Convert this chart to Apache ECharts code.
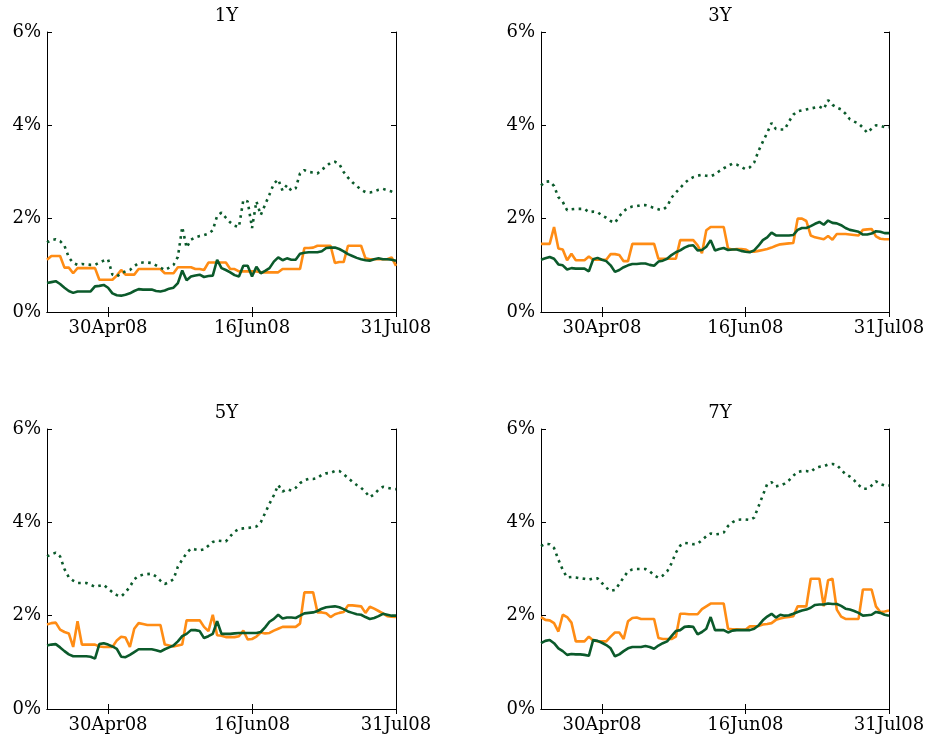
<!DOCTYPE html>
<html>
<head>
<meta charset="utf-8">
<script src="https://cdn.jsdelivr.net/npm/echarts@6/dist/echarts.min.js"></script>
<style>
html,body{margin:0;padding:0;background:#fff;}
#chart{width:928px;height:738px;}
</style>
</head>
<body>
<div id="chart"></div>
<script>
// Business-day categories, 10 Apr 2008 .. 31 Jul 2008
const dates = [
 '10Apr08','11Apr08','14Apr08','15Apr08','16Apr08','17Apr08','18Apr08','21Apr08','22Apr08','23Apr08','24Apr08','25Apr08','28Apr08','29Apr08','30Apr08',
 '01May08','02May08','05May08','06May08','07May08','08May08','09May08','12May08','13May08','14May08','15May08','16May08','19May08','20May08','21May08','22May08','23May08','26May08','27May08','28May08','29May08','30May08',
 '02Jun08','03Jun08','04Jun08','05Jun08','06Jun08','09Jun08','10Jun08','11Jun08','12Jun08','13Jun08','16Jun08','17Jun08','18Jun08','19Jun08','20Jun08','23Jun08','24Jun08','25Jun08','26Jun08','27Jun08','30Jun08',
 '01Jul08','02Jul08','03Jul08','04Jul08','07Jul08','08Jul08','09Jul08','10Jul08','11Jul08','14Jul08','15Jul08','16Jul08','17Jul08','18Jul08','21Jul08','22Jul08','23Jul08','24Jul08','25Jul08','28Jul08','29Jul08','30Jul08','31Jul08'
];
const tickLabels = ['30Apr08','16Jun08','31Jul08'];
const panelTitles = ['1Y','3Y','5Y','7Y'];

// 1Y
const orange1Y = [1.12,1.2,1.2,1.2,0.95,0.95,0.83,0.94,0.94,0.94,0.94,0.94,0.69,0.69,0.69,0.69,0.78,0.9,0.8,0.8,0.8,0.92,0.92,0.92,0.92,0.92,0.92,0.83,0.83,0.83,0.96,0.96,0.96,0.96,0.92,0.92,0.9,1.06,1.06,1.06,1.06,1.06,0.92,0.92,0.87,0.87,0.87,0.87,0.87,0.85,0.85,0.85,0.85,0.85,0.92,0.92,0.92,0.92,0.92,1.37,1.37,1.38,1.42,1.42,1.42,1.42,1.05,1.07,1.07,1.42,1.42,1.42,1.42,1.15,1.13,1.13,1.13,1.13,1.13,1.17,0.99];
const green1Y = [0.62,0.64,0.66,0.6,0.52,0.45,0.41,0.44,0.44,0.44,0.44,0.55,0.56,0.58,0.52,0.4,0.36,0.35,0.37,0.4,0.45,0.49,0.48,0.48,0.48,0.45,0.44,0.46,0.5,0.52,0.62,0.89,0.68,0.76,0.78,0.8,0.75,0.77,0.78,1.12,0.94,0.9,0.85,0.79,0.76,0.99,0.99,0.76,0.97,0.83,0.88,0.94,1.08,1.17,1.11,1.15,1.12,1.12,1.25,1.27,1.28,1.28,1.28,1.3,1.37,1.38,1.38,1.35,1.3,1.24,1.2,1.16,1.13,1.11,1.1,1.13,1.15,1.13,1.13,1.12,1.1];
const dotted1Y = [1.49,1.54,1.56,1.52,1.42,1.17,1.05,1.01,1.03,1.02,1.01,1.01,1.06,1.1,1.13,0.8,0.76,0.83,0.87,0.9,0.98,1.05,1.06,1.06,1.05,1.0,0.95,0.9,0.95,1.01,1.18,1.82,1.38,1.55,1.6,1.63,1.65,1.68,1.75,2.06,2.13,2.02,1.92,1.85,1.82,2.4,2.37,1.8,2.37,2.08,2.3,2.52,2.75,2.84,2.6,2.72,2.6,2.65,2.97,3.04,3.0,2.99,2.97,3.05,3.12,3.2,3.22,3.17,3.0,2.88,2.78,2.7,2.62,2.57,2.56,2.58,2.62,2.64,2.61,2.58,2.54];

// 3Y
const orange3Y = [1.46,1.46,1.46,1.82,1.36,1.34,1.11,1.25,1.11,1.11,1.11,1.19,1.12,1.12,1.12,1.12,1.24,1.24,1.22,1.09,1.09,1.46,1.46,1.46,1.46,1.46,1.46,1.14,1.14,1.14,1.14,1.14,1.54,1.54,1.54,1.54,1.43,1.26,1.75,1.82,1.82,1.82,1.82,1.36,1.34,1.35,1.35,1.34,1.29,1.29,1.31,1.33,1.35,1.38,1.42,1.45,1.46,1.47,1.48,2.0,2.0,1.95,1.64,1.6,1.58,1.56,1.63,1.55,1.67,1.67,1.67,1.66,1.65,1.64,1.76,1.77,1.78,1.62,1.57,1.56,1.56];
const green3Y = [1.12,1.15,1.18,1.14,1.02,1.0,0.91,0.94,0.93,0.93,0.93,0.87,1.13,1.16,1.12,1.09,1.0,0.86,0.9,0.96,1.0,1.03,1.03,1.04,1.04,1.01,0.99,1.08,1.1,1.14,1.22,1.28,1.32,1.38,1.42,1.43,1.32,1.33,1.4,1.54,1.32,1.35,1.37,1.33,1.34,1.34,1.31,1.29,1.28,1.32,1.42,1.54,1.6,1.7,1.64,1.64,1.64,1.64,1.65,1.76,1.8,1.8,1.84,1.89,1.93,1.87,1.96,1.91,1.9,1.86,1.8,1.76,1.74,1.72,1.66,1.66,1.68,1.73,1.72,1.69,1.69];
const dotted3Y = [2.71,2.79,2.8,2.7,2.46,2.36,2.18,2.2,2.21,2.21,2.21,2.14,2.15,2.14,2.07,2.02,1.95,1.91,2.05,2.16,2.23,2.26,2.27,2.29,2.29,2.26,2.23,2.2,2.19,2.26,2.45,2.56,2.66,2.76,2.84,2.89,2.92,2.94,2.92,2.91,2.95,3.02,3.08,3.13,3.18,3.16,3.11,3.06,3.1,3.2,3.45,3.65,3.84,4.05,3.92,3.91,3.91,4.08,4.23,4.3,4.32,4.34,4.36,4.38,4.4,4.35,4.54,4.44,4.38,4.34,4.25,4.13,4.08,4.04,3.95,3.84,3.93,4.0,3.99,3.96,3.96];

// 5Y
const orange5Y = [1.81,1.84,1.85,1.7,1.65,1.62,1.33,1.88,1.38,1.38,1.38,1.38,1.34,1.33,1.33,1.33,1.47,1.55,1.53,1.33,1.72,1.84,1.82,1.8,1.8,1.8,1.8,1.38,1.36,1.34,1.36,1.38,1.9,1.9,1.9,1.9,1.76,1.67,2.02,1.58,1.57,1.54,1.54,1.54,1.56,1.68,1.49,1.5,1.55,1.64,1.62,1.63,1.68,1.72,1.76,1.76,1.76,1.76,1.83,2.5,2.5,2.5,2.07,2.07,2.05,1.97,2.03,2.06,2.08,2.22,2.22,2.21,2.2,2.06,2.19,2.15,2.1,2.05,1.99,1.98,1.97];
const green5Y = [1.36,1.38,1.39,1.32,1.24,1.17,1.13,1.13,1.13,1.13,1.12,1.08,1.39,1.41,1.38,1.34,1.29,1.12,1.11,1.16,1.22,1.28,1.28,1.28,1.28,1.26,1.23,1.28,1.32,1.36,1.45,1.56,1.61,1.69,1.69,1.67,1.52,1.56,1.61,1.88,1.61,1.61,1.61,1.62,1.63,1.63,1.63,1.63,1.63,1.65,1.75,1.87,1.93,2.02,1.94,1.96,1.96,1.95,2.0,2.05,2.06,2.07,2.1,2.15,2.18,2.19,2.2,2.18,2.14,2.09,2.06,2.03,2.02,1.97,1.93,1.95,1.99,2.04,2.02,2.0,2.0];
const dotted5Y = [3.27,3.31,3.35,3.27,3.0,2.82,2.75,2.7,2.7,2.7,2.66,2.62,2.64,2.66,2.58,2.5,2.44,2.41,2.5,2.62,2.78,2.85,2.88,2.89,2.9,2.84,2.75,2.68,2.72,2.78,3.05,3.2,3.34,3.44,3.42,3.4,3.42,3.5,3.58,3.61,3.6,3.59,3.7,3.8,3.86,3.87,3.88,3.89,3.91,4.0,4.2,4.4,4.58,4.8,4.66,4.71,4.68,4.74,4.84,4.9,4.93,4.93,4.95,5.02,5.05,5.06,5.1,5.1,5.03,4.95,4.87,4.8,4.74,4.65,4.54,4.6,4.7,4.76,4.74,4.72,4.71];

// 7Y
const orange7Y = [1.97,1.91,1.9,1.84,1.66,2.02,1.97,1.85,1.45,1.45,1.45,1.55,1.47,1.45,1.45,1.45,1.55,1.64,1.64,1.5,1.88,1.95,1.96,1.93,1.93,1.93,1.93,1.52,1.5,1.5,1.5,1.55,2.04,2.04,2.03,2.03,2.03,2.14,2.2,2.26,2.26,2.26,2.26,1.72,1.71,1.71,1.7,1.7,1.77,1.77,1.78,1.81,1.82,1.84,1.91,1.94,1.96,1.97,1.99,2.2,2.2,2.2,2.79,2.79,2.79,2.2,2.76,2.79,2.13,1.98,1.93,1.93,1.93,1.93,2.56,2.56,2.56,2.2,2.08,2.09,2.11];
const green7Y = [1.41,1.46,1.48,1.41,1.3,1.24,1.16,1.18,1.17,1.17,1.16,1.14,1.48,1.46,1.42,1.37,1.3,1.13,1.17,1.24,1.3,1.33,1.33,1.33,1.35,1.33,1.29,1.36,1.41,1.45,1.56,1.67,1.69,1.76,1.77,1.76,1.6,1.65,1.72,1.97,1.69,1.69,1.69,1.64,1.68,1.69,1.69,1.69,1.69,1.72,1.79,1.9,1.98,2.04,1.96,2.02,2.0,2.01,2.04,2.08,2.11,2.13,2.17,2.23,2.24,2.24,2.26,2.25,2.25,2.21,2.15,2.13,2.1,2.06,2.0,2.01,2.02,2.08,2.06,2.02,2.0];
const dotted7Y = [3.49,3.54,3.53,3.45,3.2,2.98,2.82,2.83,2.82,2.8,2.79,2.77,2.8,2.8,2.7,2.6,2.53,2.55,2.68,2.82,2.95,2.99,3.0,3.0,3.0,2.95,2.87,2.81,2.86,2.95,3.12,3.35,3.5,3.56,3.55,3.53,3.54,3.62,3.7,3.76,3.74,3.75,3.78,3.92,4.0,4.05,4.06,4.06,4.05,4.1,4.34,4.58,4.82,4.86,4.77,4.79,4.83,4.9,5.0,5.08,5.1,5.1,5.08,5.16,5.19,5.2,5.24,5.25,5.23,5.13,5.03,4.98,4.9,4.8,4.72,4.72,4.79,4.88,4.82,4.79,4.79];

const panels = [
  {title: panelTitles[0], orange: orange1Y, green: green1Y, dotted: dotted1Y},
  {title: panelTitles[1], orange: orange3Y, green: green3Y, dotted: dotted3Y},
  {title: panelTitles[2], orange: orange5Y, green: green5Y, dotted: dotted5Y},
  {title: panelTitles[3], orange: orange7Y, green: green7Y, dotted: dotted7Y}
];

const ORANGE = '#ff8c14';
const GREEN = '#0b5a2b';
const FONT = "'DejaVu Serif', 'Liberation Serif', serif";
const grids = [
  {left: 47, top: 32, width: 349, height: 280},
  {left: 541, top: 32, width: 348, height: 280},
  {left: 47, top: 429, width: 349, height: 280},
  {left: 541, top: 429, width: 348, height: 280}
];

const showTick = (i, v) => tickLabels.indexOf(v) >= 0;
const option = {
  animation: false,
  backgroundColor: '#fff',
  title: [], grid: [], xAxis: [], yAxis: [], series: []
};

grids.forEach((g, k) => {
  option.grid.push(g);
  option.title.push({
    text: panels[k].title,
    left: g.left + g.width / 2, top: g.top - 30, textAlign: 'center',
    textStyle: {fontFamily: FONT, fontSize: 18, fontWeight: 'normal', color: '#000'}
  });
  const lineS = {show: true, lineStyle: {color: '#000', width: 1}};
  option.xAxis.push({
    type: 'category', gridIndex: k, data: dates, boundaryGap: false, position: 'bottom',
    axisLine: lineS,
    axisTick: {show: true, inside: true, length: 5, interval: showTick, lineStyle: {color: '#000'}},
    axisLabel: {show: true, interval: showTick, fontFamily: FONT, fontSize: 18, color: '#000', margin: 7},
    splitLine: {show: false}
  });
  option.xAxis.push({
    type: 'category', gridIndex: k, data: dates, boundaryGap: false, position: 'top',
    axisLine: lineS,
    axisTick: {show: true, inside: true, length: 5, interval: showTick, lineStyle: {color: '#000'}},
    axisLabel: {show: false}, splitLine: {show: false}
  });
  option.yAxis.push({
    type: 'value', gridIndex: k, min: 0, max: 6, interval: 2, position: 'left',
    axisLine: lineS,
    axisTick: {show: true, inside: true, length: 5, lineStyle: {color: '#000'}},
    axisLabel: {formatter: '{value}%', fontFamily: FONT, fontSize: 18, color: '#000', margin: 6},
    splitLine: {show: false}
  });
  option.yAxis.push({
    type: 'value', gridIndex: k, min: 0, max: 6, interval: 2, position: 'right',
    axisLine: lineS,
    axisTick: {show: true, inside: true, length: 5, lineStyle: {color: '#000'}},
    axisLabel: {show: false}, splitLine: {show: false}
  });
  const xi = 2 * k, yi = 2 * k;
  option.series.push({
    type: 'line', xAxisIndex: xi, yAxisIndex: yi, data: panels[k].orange,
    showSymbol: false, symbol: 'none', lineStyle: {color: ORANGE, width: 2.6}, z: 2
  });
  option.series.push({
    type: 'line', xAxisIndex: xi, yAxisIndex: yi, data: panels[k].dotted,
    showSymbol: false, symbol: 'none', lineStyle: {color: GREEN, width: 2.6, type: [2.6, 4.4]}, z: 3
  });
  option.series.push({
    type: 'line', xAxisIndex: xi, yAxisIndex: yi, data: panels[k].green,
    showSymbol: false, symbol: 'none', lineStyle: {color: GREEN, width: 2.6}, z: 4
  });
});

const chart = echarts.init(document.getElementById('chart'), null, {renderer: 'canvas'});
chart.setOption(option);
</script>
</body>
</html>
